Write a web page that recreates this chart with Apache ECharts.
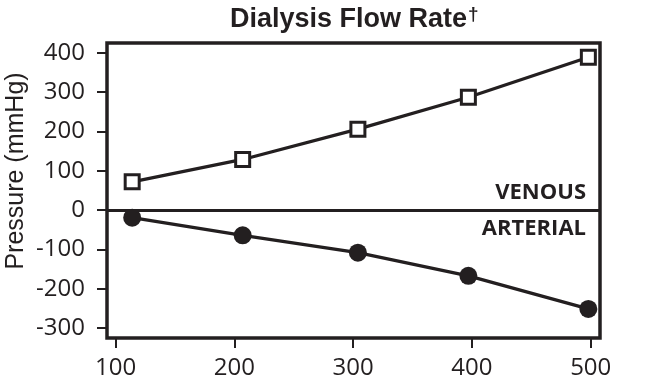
<!DOCTYPE html>
<html>
<head>
<meta charset="utf-8">
<script src="https://cdn.jsdelivr.net/npm/echarts@6/dist/echarts.min.js"></script>
<style>
html,body{margin:0;padding:0;background:#fff;}
#chart{width:653px;height:388px;}
</style>
</head>
<body>
<div id="chart"></div>
<script>
// Data
const flowRates = [114, 207, 304, 397, 498];
const venousPressure = [72, 129, 206, 287, 389];
const arterialPressure = [-19, -64, -108, -167, -251];
const xTicks = [100, 200, 300, 400, 500];
const yTicks = [-300, -200, -100, 0, 100, 200, 300, 400];
const titleText = 'Dialysis Flow Rate';
const yAxisTitle = 'Pressure (mmHg)';
const venousLabel = 'VENOUS';
const arterialLabel = 'ARTERIAL';

const ink = '#231f20';
const chart = echarts.init(document.getElementById('chart'), null, {renderer: 'canvas'});

const option = {
  animation: false,
  backgroundColor: '#fff',
  title: {
    left: 225, top: 0,
    text: '{a|' + titleText + '}{b|†}',
    textStyle: {
      rich: {
        a: {fontFamily: '"Liberation Sans", Arial, sans-serif', fontWeight: 'bold', fontSize: 27, color: ink, lineHeight: 30},
        b: {fontFamily: '"Liberation Sans", Arial, sans-serif', fontWeight: 'bold', fontSize: 19, color: ink, verticalAlign: 'top', lineHeight: 30, padding: [0,0,6,1]}
      }
    }
  },
  grid: {
    left: 107, right: 53, top: 43, bottom: 50,
    show: true, borderColor: ink, borderWidth: 3.5, backgroundColor: 'transparent'
  },
  xAxis: {
    type: 'value', min: 92.8, max: 507.8,
    axisLine: {show: false, onZero: false},
    splitLine: {show: false},
    axisTick: {show: true, customValues: xTicks, length: 10, lineStyle: {color: ink, width: 2}},
    axisLabel: {customValues: xTicks, margin: 18, color: ink, fontSize: 24, fontFamily: '"Open Sans", sans-serif'}
  },
  yAxis: {
    type: 'value', min: -325, max: 425,
    axisLine: {show: false, onZero: false},
    splitLine: {show: false},
    axisTick: {show: true, customValues: yTicks, length: 10, lineStyle: {color: ink, width: 2}},
    axisLabel: {customValues: yTicks, margin: 22, color: ink, fontSize: 24, fontFamily: '"Open Sans", sans-serif'}
  },
  graphic: [
    {type: 'text', x: 16, y: 171, rotation: Math.PI / 2,
     style: {text: yAxisTitle, fill: ink, font: '25px "Liberation Sans", Arial, sans-serif', align: 'center', verticalAlign: 'middle'}},
    {type: 'text', x: 586, y: 193,
     style: {text: venousLabel, fill: ink, font: 'bold 22px "Open Sans", sans-serif', align: 'right', verticalAlign: 'middle'}},
    {type: 'text', x: 586, y: 229,
     style: {text: arterialLabel, fill: ink, font: 'bold 22px "Open Sans", sans-serif', align: 'right', verticalAlign: 'middle'}}
  ],
  series: [
    {
      name: 'Arterial', type: 'line',
      data: flowRates.map((x, i) => [x, arterialPressure[i]]),
      symbol: 'circle', symbolSize: 18,
      lineStyle: {color: ink, width: 3.2},
      itemStyle: {color: ink},
      markLine: {
        silent: true, symbol: 'none', label: {show: false},
        lineStyle: {color: ink, width: 3, type: 'solid'},
        data: [{yAxis: 0}]
      },
      z: 3
    },
    {
      name: 'Venous', type: 'line',
      data: flowRates.map((x, i) => [x, venousPressure[i]]),
      symbol: 'rect', symbolSize: 14,
      lineStyle: {color: ink, width: 3.2},
      itemStyle: {color: '#fff', borderColor: ink, borderWidth: 3},
      z: 3
    }
  ]
};
chart.setOption(option);
</script>
</body>
</html>
